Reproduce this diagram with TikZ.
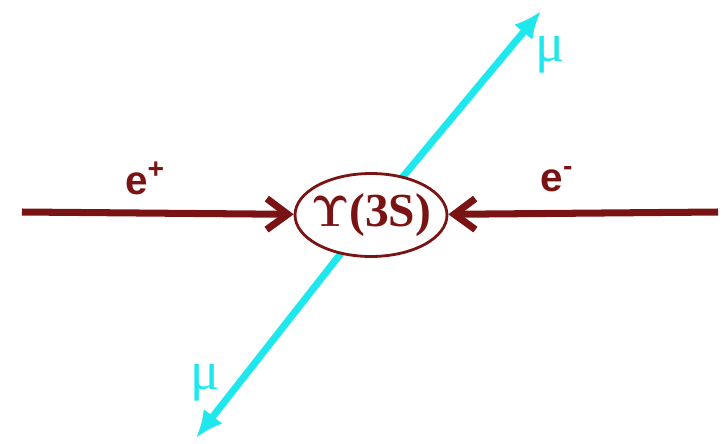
\documentclass[tikz,border=0pt]{standalone}
\usepackage[no-math]{fontspec}
\setmainfont{Liberation Serif}
\setsansfont{Liberation Sans}
\usetikzlibrary{arrows.meta, shapes.geometric, positioning, backgrounds}
\definecolor{beamred}{RGB}{122,20,20}
\definecolor{muoncyan}{RGB}{30,232,238}

\begin{document}
\begin{tikzpicture}[x=0.02cm, y=-0.02cm,
    beam/.style={-{Straight Barb[length=0.42cm, width=0.62cm]}, line width=4pt, draw=beamred},
    muon/.style={-{Latex[length=0.55cm, width=0.48cm]}, line width=4pt, draw=muoncyan},
    res/.style={ellipse, draw=beamred, line width=1.6pt, fill=white, minimum width=3.04cm, minimum height=1.66cm, inner xsep=-6pt, inner ysep=0pt},
    elab/.style={text=beamred, font=\sffamily\bfseries\fontsize{23}{26}\selectfont},
    mulab/.style={text=muoncyan, font=\fontsize{31}{34}\selectfont}]
\useasboundingbox (0,0) rectangle (726,443);
\node[res, text=beamred, font=\bfseries\fontsize{27}{30}\selectfont] (ups) at (371,215) {$\mathbf{\Upsilon}$(3S)};
\coordinate (eplus) at (22,212);
\coordinate (eminus) at (718,212);
\coordinate (muup) at (541,11);
\coordinate (mudown) at (196,438);
\begin{scope}[on background layer]
\draw[muon] (ups.center) -- (muup);
\draw[muon] (ups.center) -- (mudown);
\end{scope}
\draw[beam] (eplus) -- (ups);
\draw[beam] (eminus) -- (ups);
\node[elab] (lplus) at (145,178) {e\textsuperscript{+}};
\node[elab] (lminus) at (557,179) {e\textsuperscript{-}};
\node[mulab] (lup) at (550,55) {μ};
\node[mulab] (ldown) at (205,383) {μ};
\end{tikzpicture}
\end{document}
